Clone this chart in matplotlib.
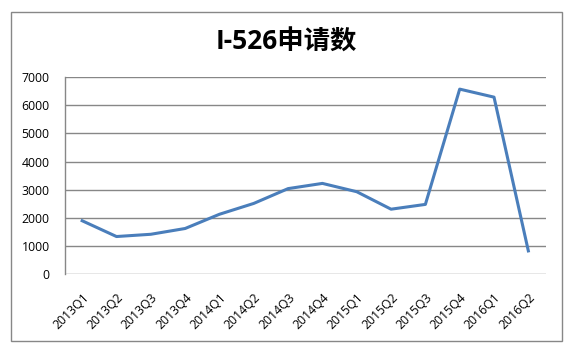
import matplotlib
matplotlib.use("Agg")
import matplotlib.pyplot as plt
from matplotlib.patches import Rectangle

categories = ["2013Q1", "2013Q2", "2013Q3", "2013Q4", "2014Q1", "2014Q2", "2014Q3",
              "2014Q4", "2015Q1", "2015Q2", "2015Q3", "2015Q4", "2016Q1", "2016Q2"]
values = [1900, 1340, 1420, 1625, 2130, 2515, 3040, 3225, 2930, 2310, 2480, 6570, 6285, 830]
yticks = [0, 1000, 2000, 3000, 4000, 5000, 6000, 7000]
title = "I-526申请数"

W, H = 573, 352
fig = plt.figure(figsize=(W / 100, H / 100), dpi=100)
fig.patch.set_facecolor("white")

# outer chart border
fig.patches.append(Rectangle((10.5 / W, 1 - 341 / H), (562 - 10.5) / W, (341 - 11.5) / H,
                             transform=fig.transFigure, fill=False, edgecolor="#878787",
                             linewidth=1.0))

left, right, top, bottom = 65, 545.5, 77, 274.3
ax = fig.add_axes([left / W, 1 - bottom / H, (right - left) / W, (bottom - top) / H])

x = list(range(len(categories)))
ax.plot(x, values, color="#4A7EBB", linewidth=2.2, solid_joinstyle="round")
ax.set_xlim(-0.5, len(categories) - 0.5)
ax.set_ylim(0, 7000)
ax.set_yticks(yticks)
ax.set_yticklabels([str(v) for v in yticks], fontsize=8.8, family="Open Sans")
ax.set_xticks(x)
ax.set_xticklabels(categories, rotation=45, ha="right", rotation_mode="anchor",
                   fontsize=8.8, family="Open Sans")
ax.tick_params(axis="both", length=0)
ax.tick_params(axis="y", pad=11)
ax.tick_params(axis="x", pad=12)
ax.grid(axis="y", color="#878787", linewidth=1.0)
ax.set_axisbelow(True)
for s in ["top", "right", "bottom"]:
    ax.spines[s].set_visible(False)
ax.spines["left"].set_color("#878787")
ax.spines["left"].set_linewidth(1.0)

fig.text(286 / W, 1 - 42 / H, title, ha="center", va="center", fontsize=19,
         fontweight="bold", family=["Open Sans", "Noto Sans CJK SC"])

fig.savefig("out.png", dpi=100, facecolor="white")
